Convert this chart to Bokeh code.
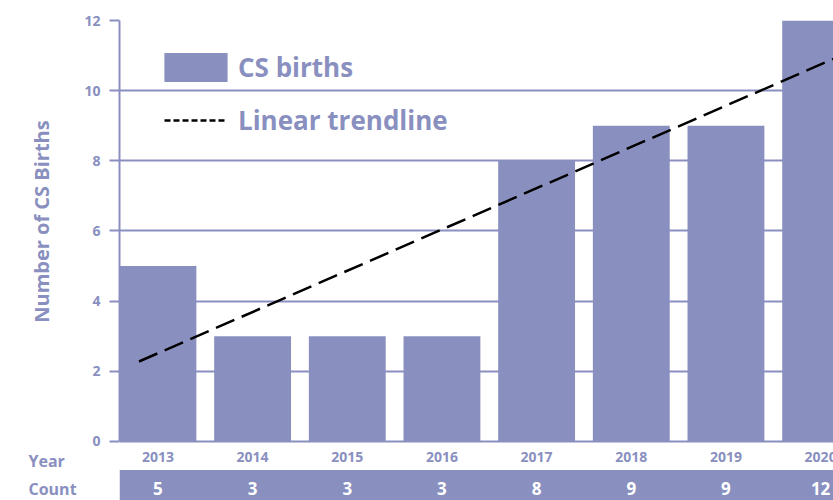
import math
from bokeh.plotting import figure
from bokeh.layouts import row
from bokeh.models import (ColumnDataSource, FixedTicker, Legend, LegendItem,
                          BoxAnnotation, Range1d)
from bokeh.core.properties import value
from bokeh.embed import file_html
from bokeh.resources import INLINE

# ---- data ----
years = ["2013", "2014", "2015", "2016", "2017", "2018", "2019", "2020"]
counts = [5, 3, 3, 3, 8, 9, 9, 12]
y_ticks = [0, 2, 4, 6, 8, 10, 12]
trend_x = [-0.2, 7.3]      # trendline endpoints
trend_y = [2.28, 11.1]
y_title = "Number of CS Births"
row_titles = ["Year", "Count"]

LAV = "#8990c0"
FONT = "Open Sans"

YEAR_ROW_Y = -0.456
COUNT_ROW_Y = -1.34
yr = Range1d(-1.682, 12)

idx = list(range(len(years)))
src = ColumnDataSource(dict(
    x=idx, top=counts, year=years, cnt=[str(c) for c in counts],
    yy=[YEAR_ROW_Y] * len(years), cy=[COUNT_ROW_Y] * len(years)))

LEFT_W = 81

# ---- left strip with row titles and the y-axis title ----
left = figure(width=LEFT_W, height=500, output_backend="svg",
              toolbar_location=None, x_range=(0, LEFT_W), y_range=yr,
              x_axis_location=None, y_axis_location=None, min_border_left=0,
              min_border_right=0, min_border_top=20, min_border_bottom=0)
left.outline_line_color = None
left.grid.visible = False
left.text(x=[28, 28], y=[-0.57, -1.34], text=row_titles, text_align="left",
          text_baseline="middle", text_color=LAV, text_font=value(FONT),
          text_font_style="bold", text_font_size="16px")
left.text(x=[40.5], y=[6.27], text=[y_title], angle=math.pi / 2,
          text_align="center", text_baseline="middle", text_color=LAV,
          text_font=value(FONT), text_font_style="bold", text_font_size="20px")

# ---- main chart ----
p = figure(width=833 - LEFT_W, height=500, output_backend="svg",
           toolbar_location=None, x_range=(-0.406, 7.136), y_range=yr,
           min_border_left=118 - LEFT_W, min_border_right=0,
           min_border_top=20, min_border_bottom=0)
p.outline_line_color = None

p.add_layout(BoxAnnotation(top=-0.81, fill_color=LAV, fill_alpha=1.0,
                           line_color=None, level="underlay"))

bars = p.vbar(x="x", top="top", width=0.812, source=src, fill_color=LAV,
              line_color=None)
trend = p.line(trend_x, trend_y, line_color="black", line_width=2.5,
               line_dash="20 8")
trend_leg = p.line(trend_x, trend_y, line_color="black", line_width=2.5,
                   line_dash="6 3", visible=False)

p.text(x="x", y="yy", text="year", source=src, text_align="center",
       text_baseline="middle", text_color=LAV, text_font=value(FONT),
       text_font_style="bold", text_font_size="14px")
p.text(x="x", y="cy", text="cnt", source=src, text_align="center",
       text_baseline="middle", text_color="white", text_font=value(FONT),
       text_font_style="bold", text_font_size="17px")

p.xaxis.visible = False
p.xgrid.visible = False
yax = p.yaxis[0]
yax.ticker = FixedTicker(ticks=y_ticks)
yax.bounds = (0, 12)
yax.axis_line_color = LAV
yax.axis_line_width = 2
yax.major_tick_line_color = LAV
yax.major_tick_line_width = 2
yax.major_tick_out = 10
yax.major_tick_in = 0
yax.minor_tick_line_color = None
yax.major_label_standoff = 9
yax.major_label_text_color = LAV
yax.major_label_text_font = FONT
yax.major_label_text_font_style = "bold"
yax.major_label_text_font_size = "14px"
p.ygrid.ticker = FixedTicker(ticks=y_ticks)
p.ygrid.grid_line_color = LAV
p.ygrid.grid_line_width = 2

def style(lg):
    lg.padding = 0
    lg.margin = 0
    lg.border_line_color = None
    lg.background_fill_alpha = 0
    lg.label_text_color = LAV
    lg.label_text_font = FONT
    lg.label_text_font_style = "bold"
    lg.label_text_font_size = "26px"
    lg.label_text_baseline = "middle"

lg1 = Legend(items=[LegendItem(label="CS births", renderers=[bars])],
             location=(37, 414.6), glyph_width=79, glyph_height=36,
             label_standoff=3)
style(lg1)
lg2 = Legend(items=[LegendItem(label="Linear trendline", renderers=[trend_leg])],
             location=(45, 362), glyph_width=63, glyph_height=36,
             label_standoff=11)
style(lg2)
p.add_layout(lg1)
p.add_layout(lg2)

layout = row(left, p, spacing=0)
open("out.html", "w").write(file_html(layout, INLINE))
